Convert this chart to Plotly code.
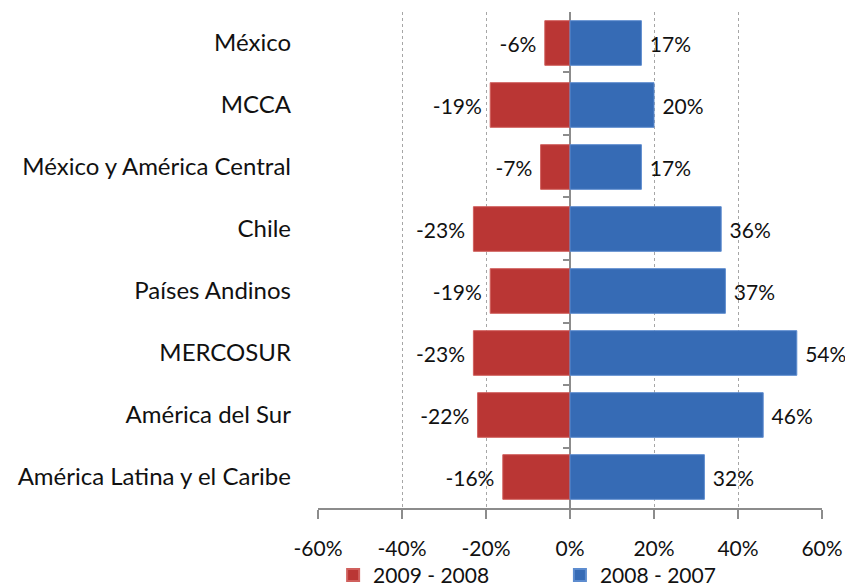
import plotly.graph_objects as go

categories = ["México", "MCCA", "México y América Central", "Chile",
              "Países Andinos", "MERCOSUR", "América del Sur",
              "América Latina y el Caribe"]
series_2009_2008 = [-6, -19, -7, -23, -19, -23, -22, -16]
series_2008_2007 = [17, 20, 17, 36, 37, 54, 46, 32]
tick_values = [-60, -40, -20, 0, 20, 40, 60]
tick_labels = ["-60%", "-40%", "-20%", "0%", "20%", "40%", "60%"]

FONT = "Lato, Open Sans, sans-serif"
AXIS = "#8C8C8C"

fig = go.Figure()
fig.add_trace(go.Bar(
    y=categories, x=series_2009_2008, orientation="h", name="2009 - 2008",
    marker=dict(color="#BA3634", line=dict(color="#D0605D", width=1)),
    text=[f"{v}% " for v in series_2009_2008], textposition="outside",
    textfont=dict(size=21, color="#111"), cliponaxis=False, legend="legend",
))
fig.add_trace(go.Bar(
    y=categories, x=series_2008_2007, orientation="h", name="2008 - 2007",
    marker=dict(color="#366BB5", line=dict(color="#5D8CCF", width=1)),
    text=[f" {v}%" for v in series_2008_2007], textposition="outside",
    textfont=dict(size=21, color="#111"), cliponaxis=False, legend="legend2",
))
# invisible helper trace to draw the category tick marks on the zero line
fig.add_trace(go.Scatter(
    y=categories, x=[0] * len(categories), yaxis="y2", mode="markers",
    marker=dict(opacity=0), showlegend=False, hoverinfo="skip",
))

leg_common = dict(orientation="h", yanchor="middle", xanchor="left",
                  font=dict(size=21), itemsizing="constant",
                  bgcolor="rgba(0,0,0,0)")

fig.update_layout(
    width=845, height=579,
    barmode="overlay", bargap=0.28,
    plot_bgcolor="white", paper_bgcolor="white",
    margin=dict(l=310, r=31, t=4, b=79, autoexpand=False),
    font=dict(family=FONT, size=21, color="#111"),
    showlegend=True,
    legend=dict(x=0.03, y=-0.136, **leg_common),
    legend2=dict(x=0.48, y=-0.136, **leg_common),
    xaxis=dict(range=[-60, 60], tickvals=tick_values, ticktext=tick_labels,
               automargin=False,
               showgrid=True, gridcolor="#A6A6A6", griddash="dot", gridwidth=1,
               zeroline=True, zerolinecolor=AXIS, zerolinewidth=2,
               showline=True, linecolor=AXIS, linewidth=2,
               ticks="outside", ticklen=9, tickcolor=AXIS, tickwidth=2,
               ticklabelstandoff=12, tickfont=dict(size=21)),
    yaxis=dict(autorange="reversed", showgrid=False, ticks="", automargin=False,
               ticklabelstandoff=26, tickfont=dict(size=24)),
    yaxis2=dict(overlaying="y", anchor="free", position=0.5, side="left",
                autorange="reversed", tickson="boundaries", ticks="outside",
                ticklen=7, tickwidth=2, tickcolor=AXIS, showticklabels=False,
                showgrid=False, showline=False, zeroline=False, automargin=False),
)

fig.write_html("out.html")
